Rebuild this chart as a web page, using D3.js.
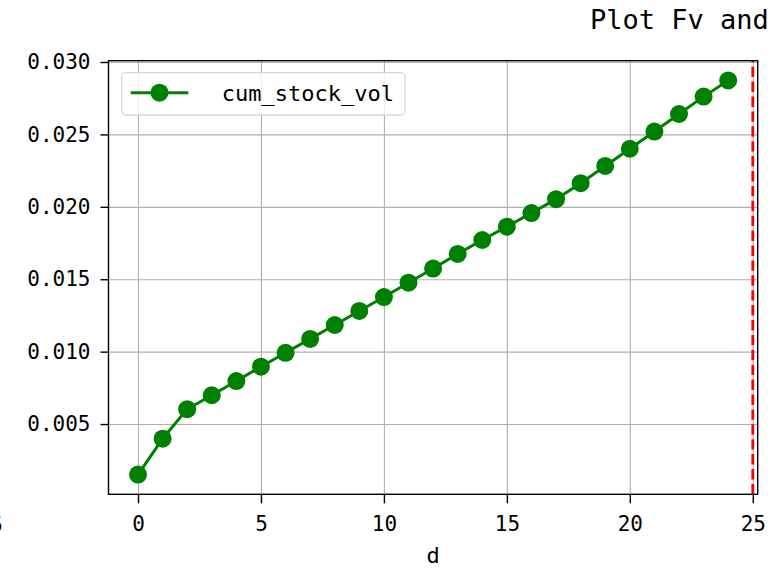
<!DOCTYPE html>
<head>
  <meta charset="utf-8">
  <script src="https://d3js.org/d3.v7.min.js"></script>
  <style>
    body { margin:0; background:#fff; }
    text { font-family: "DejaVu Sans Mono", monospace; fill:#000; }
    .axis path, .axis line { stroke:#000; stroke-width:1.4; }
    .axis text { font-size:21px; }
    .grid line { stroke:#b0b0b0; stroke-width:1.1; }
    .grid path { display:none; }
  </style>
</head>

<body>
  <svg width="776" height="568" id="vis"></svg>
<script>
  // data
  var days = [0,1,2,3,4,5,6,7,8,9,10,11,12,13,14,15,16,17,18,19,20,21,22,23,24];
  var cumStockVol = [0.00151,0.00399,0.00603,0.00699,0.00797,0.00896,0.00992,0.01088,0.01184,0.01281,
                     0.01377,0.01476,0.01574,0.01675,0.01771,0.01863,0.01957,0.02053,0.02163,0.02282,
                     0.02401,0.02520,0.02641,0.02761,0.02873];
  var xTicks = [0,5,10,15,20,25];
  var yTicks = [0.005,0.010,0.015,0.020,0.025,0.030];
  var vLineAt = 25;
  var seriesName = "cum_stock_vol";
  var titleText = "Plot Fv and";

  var svg = d3.select("#vis"),
      margin = {top: 60.7, left: 108.5},
      width = 757.7 - 108.5,
      height = 494.3 - 60.7,
      g = svg.append("g").attr("transform", "translate(" + margin.left + "," + margin.top + ")");

  var x = d3.scaleLinear().domain([-1.2, 25.2]).range([0, width]),
      y = d3.scaleLinear().domain([0.00015, 0.03009]).range([height, 0]);

  // gridlines
  g.append("g").attr("class", "grid")
    .attr("transform", "translate(0," + height + ")")
    .call(d3.axisBottom(x).tickValues(xTicks).tickSize(-height).tickFormat(""));
  g.append("g").attr("class", "grid")
    .call(d3.axisLeft(y).tickValues(yTicks).tickSize(-width).tickFormat(""));

  // red dashed vertical line
  g.append("line")
    .attr("x1", x(vLineAt)).attr("x2", x(vLineAt))
    .attr("y1", height).attr("y2", 0)
    .attr("stroke", "#ff0000").attr("stroke-width", 2.8)
    .attr("stroke-dasharray", "10.4,4.5");

  // series
  var pts = days.map(function(d, i) { return [d, cumStockVol[i]]; });
  g.append("path").datum(pts)
    .attr("fill", "none").attr("stroke", "#008000").attr("stroke-width", 3)
    .attr("d", d3.line().x(function(d) { return x(d[0]); }).y(function(d) { return y(d[1]); }));
  g.selectAll(".dot").data(pts).enter().append("circle")
    .attr("class", "dot")
    .attr("cx", function(d) { return x(d[0]); })
    .attr("cy", function(d) { return y(d[1]); })
    .attr("r", 9).attr("fill", "#008000");

  // axes
  var xAxis = g.append("g").attr("class", "axis")
    .attr("transform", "translate(0," + height + ")")
    .call(d3.axisBottom(x).tickValues(xTicks).tickSize(9).tickSizeOuter(0).tickPadding(13));
  xAxis.select(".domain").remove();
  var yAxis = g.append("g").attr("class", "axis")
    .call(d3.axisLeft(y).tickValues(yTicks).tickFormat(d3.format(".3f")).tickSize(8).tickSizeOuter(0).tickPadding(10));
  yAxis.select(".domain").remove();

  // frame
  g.append("rect").attr("width", width).attr("height", height)
    .attr("fill", "none").attr("stroke", "#000").attr("stroke-width", 1.4);

  // legend
  var lg = svg.append("g");
  lg.append("rect").attr("x", 121.7).attr("y", 72.7).attr("width", 283.3).attr("height", 42.3)
    .attr("rx", 4).attr("fill", "#fff").attr("fill-opacity", 0.8)
    .attr("stroke", "#d6d6d6").attr("stroke-width", 1.3);
  lg.append("line").attr("x1", 130.7).attr("x2", 188.3).attr("y1", 92.7).attr("y2", 92.7)
    .attr("stroke", "#008000").attr("stroke-width", 3);
  lg.append("circle").attr("cx", 159.5).attr("cy", 92.7).attr("r", 9).attr("fill", "#008000");
  lg.append("text").attr("x", 221.7).attr("y", 101).style("font-size", "22px").text(seriesName);

  // axis label and title
  svg.append("text").attr("x", 433).attr("y", 563).attr("text-anchor", "middle")
    .style("font-size", "22px").text("d");
  svg.append("text").attr("x", 590).attr("y", 29).style("font-size", "27px").text(titleText);
  // edge of a neighbouring tick label
  svg.append("text").attr("x", 3).attr("y", 531.5).attr("text-anchor", "end")
    .style("font-size", "21px").text("5");
</script>
</body>
